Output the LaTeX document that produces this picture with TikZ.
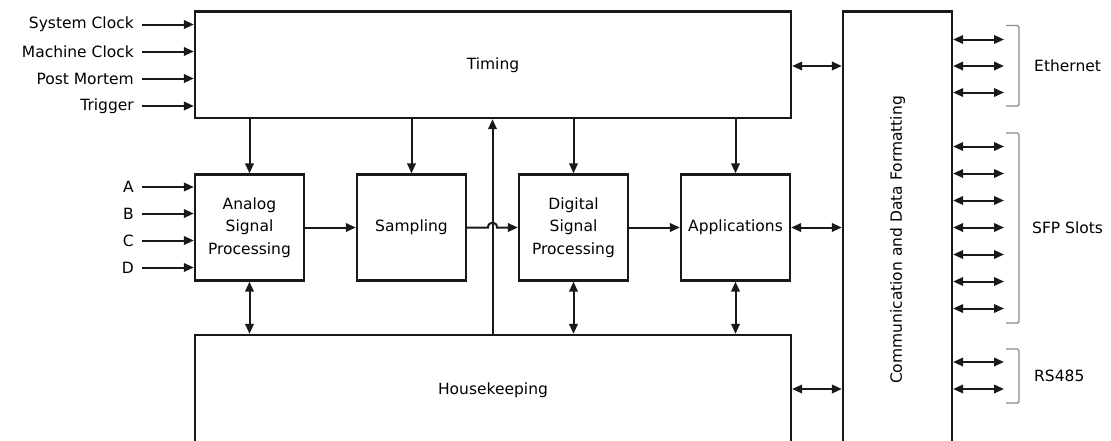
\documentclass[tikz,border=0pt]{standalone}
\usepackage{fontspec}
\setmainfont{DejaVu Sans}
\usetikzlibrary{arrows.meta,calc}
\begin{document}
\begin{tikzpicture}[x=1pt,y=-1pt,
  font=\fontsize{15.5}{22.5}\selectfont,
  blk/.style={draw=black!90, line width=2.3pt, inner sep=0pt, align=center, text=black},
  tip/.style={Triangle[length=10pt,width=8.5pt]},
  arr/.style={draw=black!90, line width=2pt, -{Triangle[length=10pt,width=8.5pt]}},
  biarr/.style={draw=black!90, line width=2pt, {Triangle[length=10pt,width=8.5pt]}-{Triangle[length=10pt,width=8.5pt]}},
  lbl/.style={inner sep=0pt, text=black},
  brk/.style={draw=black!45, line width=1.4pt, rounded corners=1.5pt}]
\useasboundingbox (0,0) rectangle (1111,440);
\clip (0,0) rectangle (1111,440);

% blocks
\node[blk, minimum width=596pt, minimum height=106.5pt] (timing) at (493,64.75) {Timing};
\node[blk, minimum width=109pt, minimum height=106pt] (asp) at (249.5,227.5) {Analog\\Signal\\Processing};
\node[blk, minimum width=109pt, minimum height=106pt] (samp) at (411.5,227.5) {Sampling};
\node[blk, minimum width=109pt, minimum height=106pt] (dsp) at (573.5,227.5) {Digital\\Signal\\Processing};
\node[blk, minimum width=109pt, minimum height=106pt] (app) at (735.5,227.5) {Applications};
\node[blk, minimum width=596pt, minimum height=110pt] (hk) at (493,390) {Housekeeping};
\node[blk, minimum width=109pt, minimum height=460pt] (comm) at (897.5,241.5) {};
\node[lbl, rotate=90] (commlbl) at (897.5,240) {Communication and Data Formatting};

% timing inputs
\node[lbl, anchor=east] (sc) at (134,24.5) {System Clock};
\node[lbl, anchor=east] (mc) at (134,51.5) {Machine Clock};
\node[lbl, anchor=east] (pm) at (134,78.5) {Post Mortem};
\node[lbl, anchor=east] (tr) at (134,106) {Trigger};
\foreach \n in {sc,mc,pm,tr}
  \draw[arr] ([xshift=8pt]\n.east) -- (\n.east -| timing.west);

% analog inputs
\node[lbl, anchor=east] (ia) at (134,187) {A};
\node[lbl, anchor=east] (ib) at (134,213.5) {B};
\node[lbl, anchor=east] (ic) at (134,240.5) {C};
\node[lbl, anchor=east] (id) at (134,267.5) {D};
\foreach \n in {ia,ib,ic,id}
  \draw[arr] ([xshift=8pt]\n.east) -- (\n.east -| asp.west);

% timing to blocks
\foreach \n in {asp,samp,dsp,app}
  \draw[arr] (\n.north |- timing.south) -- (\n.north);

% housekeeping links
\foreach \n in {asp,dsp,app}
  \draw[biarr] (\n.south) -- (\n.south |- hk.north);

% housekeeping to timing
\coordinate (tap) at (492.5,0);
\draw[arr] (tap |- hk.north) -- (tap |- timing.south);

% data path
\draw[arr] (asp.east) -- (samp.west);
\coordinate (hopc) at (tap |- samp.east);
\draw[arr] (samp.east) -- ([xshift=-4.5pt]hopc)
  .. controls ([xshift=-4.5pt,yshift=6.5pt]hopc) and ([xshift=4.5pt,yshift=6.5pt]hopc) .. ([xshift=4.5pt]hopc)
  -- (dsp.west);
\draw[arr] (dsp.east) -- (app.west);

% to communication
\draw[biarr] (timing.east |- 0,66) -- (comm.west |- 0,66);
\draw[biarr] (app.east) -- (app.east -| comm.west);
\draw[biarr] (hk.east |- 0,389) -- (comm.west |- 0,389);

% external ports
\foreach \y [count=\i] in {39.5,66,92.5}
  {\coordinate (e\i) at (1004,\y); \draw[biarr] (comm.east |- e\i) -- (e\i);}
\foreach \y [count=\i] in {146.5,173.5,200.5,227.5,254.5,281.5,308.5}
  {\coordinate (s\i) at (1004,\y); \draw[biarr] (comm.east |- s\i) -- (s\i);}
\foreach \y [count=\i] in {362,389}
  {\coordinate (r\i) at (1004,\y); \draw[biarr] (comm.east |- r\i) -- (r\i);}

% brackets
\draw[brk] (1006,25.5) -- (1019,25.5) -- (1019,106) -- (1006,106);
\draw[brk] (1006,133) -- (1019,133) -- (1019,323) -- (1006,323);
\draw[brk] (1006,349) -- (1019,349) -- (1019,403) -- (1006,403);

\node[lbl, anchor=west] (eth) at (1034,66) {Ethernet};
\node[lbl, anchor=west] (sfp) at (1032,227.5) {SFP Slots};
\node[lbl, anchor=west] (rs) at (1034,376) {RS485};
\end{tikzpicture}
\end{document}
